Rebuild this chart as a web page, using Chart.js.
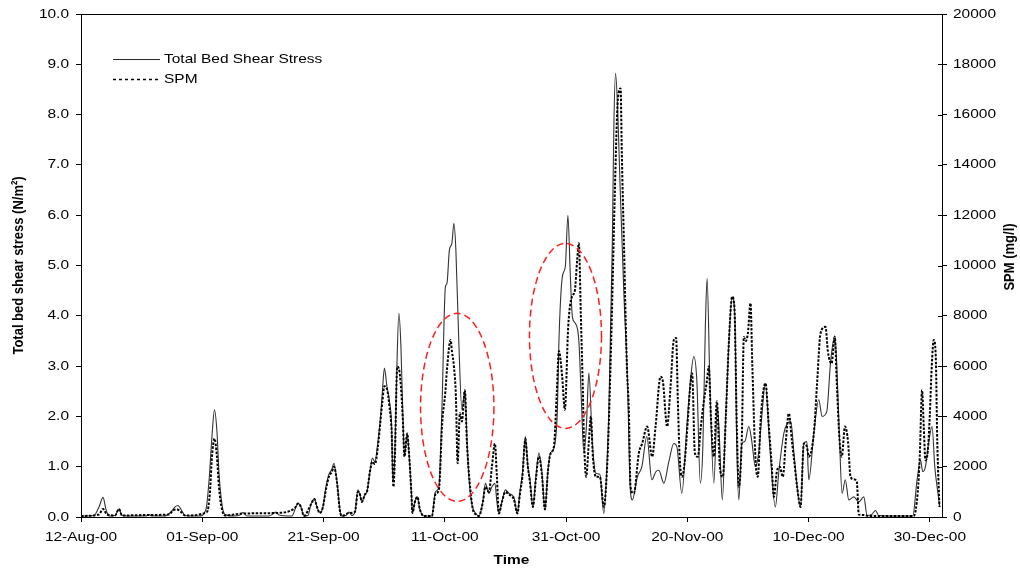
<!DOCTYPE html>
<html>
<head>
<meta charset="utf-8">
<script src="https://cdn.jsdelivr.net/npm/chart.js@4.4.1/dist/chart.umd.min.js"></script>
<style>
  html, body { margin: 0; padding: 0; background: #fff; }
  canvas { display: block; }
</style>
</head>
<body>
<canvas id="chart" width="1020" height="569"></canvas>
<script>
// Time axis: days elapsed since 12-Aug-2000
const START_DATE = Date.UTC(2000, 7, 12);
const MONTHS = ['Jan','Feb','Mar','Apr','May','Jun','Jul','Aug','Sep','Oct','Nov','Dec'];
const X_RANGE = [0, 142];
const X_TICK_STEP = 20;

// Total bed shear stress (N/m2)
const stressDays = [0,2.14,2.97,3.63,4.12,4.62,5.61,6.27,6.76,8.74,
  10.72,11.21,11.71,13.69,14.84,15.5,15.99,16.65,17.15,19.46,
  20.61,21.1,21.6,22.01,22.42,22.75,23.25,23.74,25.23,26.22,
  26.71,27.37,31.0,31.66,32.15,32.65,34.79,35.45,35.78,36.27,
  36.77,37.43,37.92,38.5,38.91,39.41,39.9,40.4,40.89,41.38,
  41.71,42.21,42.7,42.95,43.69,44.19,44.68,45.18,45.67,46.0,
  46.33,46.83,47.16,47.65,48.06,48.47,48.97,49.38,49.71,50.04,
  50.45,50.87,51.23,51.44,51.77,52.1,52.43,52.76,53.09,53.34,
  53.8,54.08,54.49,54.66,55.07,55.48,55.89,56.55,57.87,58.45,
  59.03,59.52,60.1,60.35,60.76,61.17,61.5,61.83,62.32,62.82,
  63.31,63.64,63.97,64.47,65.13,65.62,66.28,66.69,67.27,67.77,
  68.26,68.59,68.92,69.42,69.99,70.57,71.39,71.97,72.38,72.8,
  73.29,73.7,74.03,74.53,75.02,75.52,76.01,76.51,77.0,77.41,
  77.99,78.57,78.81,79.39,79.88,80.3,80.71,81.04,81.53,82.11,
  82.52,82.93,83.35,83.76,84.34,84.91,85.57,86.23,86.73,87.06,
  87.63,87.88,88.16,88.54,88.95,89.53,90.11,90.6,90.93,91.76,
  92.5,93.32,94.15,94.81,95.3,96.13,96.95,97.77,98.27,99.09,
  99.92,100.58,101.07,101.57,102.14,102.56,102.97,103.26,103.71,104.37,
  104.95,105.28,105.77,106.27,106.84,107.39,107.83,108.16,108.49,108.99,
  109.48,110.14,110.64,111.21,111.79,112.28,112.86,113.6,114.51,115.09,
  115.91,116.49,117.07,117.56,118.11,118.67,119.21,119.71,120.03,120.86,
  121.68,122.23,123.0,123.61,124.32,124.65,125.1,125.52,126.05,126.63,
  127.45,128.28,129.1,129.65,130.42,131.03,131.57,134.87,137.18,137.89,
  138.45,138.83,139.27,139.82,140.36,140.81,141.3,141.63];
const stressValues = [0.02,0.03,0.2,0.39,0.15,0.02,0.03,0.16,0.03,0.02,
  0.02,0.05,0.02,0.02,0.1,0.2,0.23,0.12,0.03,0.02,
  0.15,0.7,1.6,2.13,1.7,0.9,0.25,0.05,0.02,0.04,
  0.09,0.02,0.02,0.06,0.1,0.04,0.02,0.2,0.27,0.2,
  0.02,0.03,0.25,0.36,0.2,0.08,0.2,0.6,0.85,0.95,
  1.07,0.7,0.15,0.02,0.03,0.1,0.03,0.1,0.54,0.45,
  0.3,0.45,0.5,0.9,1.17,1.1,1.5,1.96,2.5,2.96,
  2.6,2.3,1.8,0.7,1.3,3.0,4.05,3.4,2.0,1.2,
  1.66,1.3,0.47,0.08,0.3,0.4,0.15,0.02,0.02,0.5,
  0.6,2.13,4.58,4.64,5.31,5.44,5.84,5.3,3.45,2.13,
  2.52,1.6,0.8,0.25,0.07,0.02,0.3,0.67,0.47,0.6,
  0.67,0.3,0.07,0.3,0.54,0.47,0.4,0.07,0.5,0.87,
  1.6,1.0,0.77,0.2,0.8,1.27,0.9,0.15,0.9,1.27,
  1.37,2.13,3.45,4.78,4.98,6.0,4.78,3.98,3.85,3.5,
  2.33,1.27,1.8,2.86,1.46,0.87,0.85,0.07,1.0,2.13,
  5.44,7.76,8.82,8.0,6.43,4.45,2.79,0.54,0.34,0.8,
  1.0,1.6,0.74,0.9,0.93,0.67,1.1,1.46,1.4,0.47,
  1.8,2.8,3.19,2.7,0.67,1.4,3.78,4.74,2.7,0.67,
  2.19,1.6,0.34,1.8,3.45,4.38,4.0,1.4,0.34,1.46,
  1.5,1.8,1.5,1.0,1.3,2.0,2.66,1.4,0.2,0.9,
  1.66,1.86,1.9,1.3,0.6,0.2,1.46,1.5,0.74,1.66,
  2.33,2.0,2.1,3.06,3.6,3.0,1.53,0.47,0.74,0.34,
  0.4,0.3,0.4,0.03,0.05,0.13,0.03,0.02,0.02,0.74,
  1.13,0.9,1.0,1.5,1.8,1.0,0.5,0.2];

// Suspended particulate matter (mg/l)
const spmDays = [0,2.97,3.63,4.29,5.61,6.27,6.76,11.21,14.51,15.17,
  15.83,16.49,17.15,20.78,21.27,21.6,22.01,22.42,22.75,23.25,
  23.74,26.71,32.15,35.28,35.78,36.27,36.77,37.92,38.5,38.91,
  39.41,39.9,40.4,40.89,41.38,41.71,42.21,42.7,43.03,44.19,
  45.18,45.67,46.0,46.33,46.83,47.16,47.65,48.06,48.47,48.97,
  49.38,49.71,50.04,50.45,50.87,51.23,51.53,51.77,52.15,52.43,
  52.76,53.09,53.34,53.8,54.08,54.49,54.66,55.07,55.48,55.89,
  56.55,57.87,58.45,59.03,59.57,60.1,60.35,60.96,61.17,61.5,
  61.83,62.11,62.49,62.82,63.31,63.64,64.25,64.63,65.13,65.62,
  66.28,66.69,67.27,67.77,68.26,68.59,68.92,69.42,69.99,70.57,
  71.39,71.97,72.38,72.8,73.29,73.7,74.03,74.53,75.02,75.52,
  76.01,76.51,77.0,77.41,77.99,78.48,78.81,79.36,79.8,80.35,
  80.96,81.45,81.83,82.11,82.44,82.77,82.93,83.31,83.76,84.09,
  84.42,84.91,85.57,86.23,86.73,87.06,87.55,88.05,88.54,88.99,
  89.2,89.53,90.03,90.35,90.63,91.18,92.0,92.55,93.37,94.2,
  94.76,95.58,95.96,96.67,97.23,97.77,98.15,98.43,98.76,99.14,
  99.59,100.53,100.79,101.24,101.73,102.23,102.72,103.22,103.54,103.88,
  104.37,104.87,105.36,105.85,106.35,106.84,107.39,107.75,108.16,108.49,
  108.99,109.32,109.65,109.98,110.42,110.72,111.25,111.62,112.12,112.89,
  113.44,113.93,114.26,114.76,115.25,115.75,116.24,116.74,117.23,117.73,
  118.11,118.67,119.21,119.71,120.03,120.86,121.4,121.96,122.79,123.17,
  123.78,124.32,124.65,125.1,125.47,126.0,126.5,126.91,127.45,127.95,
  128.28,129.1,129.93,137.35,138.0,138.33,138.71,138.99,139.27,139.65,
  139.98,140.31,140.64,140.97,141.22,141.58];
const spmValues = [40,100,320,100,60,320,60,80,100,260,
  300,200,60,200,1000,2400,3120,2400,1200,300,
  60,140,160,360,540,400,40,500,720,400,
  160,400,1100,1600,1800,2000,1400,240,40,160,
  200,1000,900,600,900,1000,1800,2200,2100,2800,
  3800,4600,5200,5100,4400,3400,1200,2400,5980,5900,
  5200,3800,2400,3320,2600,940,160,600,800,300,
  40,40,900,1100,3720,5000,5840,7040,6600,6000,
  4800,2140,4140,3800,5040,3000,1000,300,100,40,
  600,1200,1000,2000,2920,1600,140,600,1000,900,
  700,140,900,1600,3100,2000,1400,400,1500,2400,
  1700,300,1800,2500,2800,5000,6600,5580,4260,7560,
  8760,9000,10220,10880,8000,5000,3320,1600,3000,4000,
  2400,1600,1600,400,1800,3800,8000,13000,16600,17040,
  14400,11000,6000,4260,1200,940,2540,2920,3600,2400,
  3600,5580,5400,3600,5180,7040,7120,4660,2260,1600,
  2260,5320,5720,2540,2400,3600,4600,5400,5980,4000,
  2400,4600,2000,1600,4000,6900,8760,8400,3600,1200,
  3200,7160,7000,7300,8500,6000,2260,1600,4000,5320,
  3600,2000,800,1800,2000,1600,3000,4120,3060,2000,
  1200,400,2920,2800,2400,3320,5320,7300,7560,6600,
  6100,7160,5320,3060,2400,3600,3000,1600,1500,1400,
  100,80,40,40,1000,2400,5040,3600,2260,2600,
  4000,6000,7040,6400,3000,400];

// Highlighted events: centre day, centre stress, half-width (days), half-height (N/m2)
const highlightDay = [62.05, 79.9];
const highlightStress = [2.18, 3.6];
const highlightHalfDays = [6.05, 5.94];
const highlightHalfStress = [1.87, 1.84];

const seriesNames = ['Total Bed Shear Stress', 'SPM'];
const axisTitles = { x: 'Time', y: 'Total bed shear stress (N/m\u00B2)', y2: 'SPM (mg/l)' };

const TEXT_STRETCH = 1.19;
const FONT = '13px "Liberation Sans", Arial, sans-serif';
const FONT_BOLD = 'bold 13px "Liberation Sans", Arial, sans-serif';

function formatDay(day) {
  const d = new Date(START_DATE + day * 86400000);
  return String(d.getUTCDate()).padStart(2, '0') + '-' + MONTHS[d.getUTCMonth()] + '-' +
    String(d.getUTCFullYear() % 100).padStart(2, '0');
}

function drawText(ctx, text, x, y, align, font, rotated) {
  ctx.save();
  ctx.translate(x, y);
  ctx.scale(TEXT_STRETCH, 1);
  if (rotated) ctx.rotate(-Math.PI / 2);
  ctx.font = font;
  ctx.fillStyle = '#000';
  ctx.textAlign = align;
  ctx.textBaseline = 'middle';
  ctx.fillText(text, 0, 0);
  ctx.restore();
}

const frameAndText = {
  id: 'frameAndText',
  afterDatasetsDraw(chart) {
    const { ctx, scales: { x, y } } = chart;
    ctx.save();
    ctx.strokeStyle = '#ff1f1f';
    ctx.lineWidth = 1.5;
    ctx.setLineDash([7, 4]);
    highlightDay.forEach((d, i) => {
      const cx = x.getPixelForValue(d);
      const cy = y.getPixelForValue(highlightStress[i]);
      const rx = x.getPixelForValue(d + highlightHalfDays[i]) - cx;
      const ry = cy - y.getPixelForValue(highlightStress[i] + highlightHalfStress[i]);
      ctx.beginPath();
      ctx.ellipse(cx, cy, rx, ry, 0, 0, Math.PI * 2);
      ctx.stroke();
    });
    ctx.restore();
  },
  afterDraw(chart) {
    const { ctx, chartArea: area, scales: { x, y, y2 } } = chart;
    ctx.save();
    // top frame line and inner half of the right-axis ticks
    ctx.strokeStyle = '#000';
    ctx.lineWidth = 1;
    ctx.beginPath();
    const top = Math.round(area.top) + 0.5;
    ctx.moveTo(Math.round(area.left), top);
    ctx.lineTo(Math.round(area.right) + 1, top);
    y2.ticks.forEach(t => {
      const py = Math.round(y2.getPixelForValue(t.value)) + 0.5;
      ctx.moveTo(Math.round(area.right) - 4, py);
      ctx.lineTo(Math.round(area.right), py);
    });
    ctx.stroke();

    // tick labels
    y.ticks.forEach(t => drawText(ctx, Number(t.value).toFixed(1), 69, y.getPixelForValue(t.value), 'right', FONT));
    y2.ticks.forEach(t => drawText(ctx, String(t.value), 953, y2.getPixelForValue(t.value), 'left', FONT));
    x.ticks.forEach(t => drawText(ctx, formatDay(t.value), x.getPixelForValue(t.value), 537, 'center', FONT));

    // axis titles
    drawText(ctx, axisTitles.x, (area.left + area.right) / 2, 560, 'center', FONT_BOLD);
    drawText(ctx, axisTitles.y, 19, (area.top + area.bottom) / 2, 'center', FONT_BOLD, true);
    drawText(ctx, axisTitles.y2, 1010, 257, 'center', FONT_BOLD, true);

    // legend
    ctx.lineWidth = 1;
    ctx.strokeStyle = '#2a2a2a';
    ctx.beginPath();
    ctx.moveTo(113, 59.5);
    ctx.lineTo(160, 59.5);
    ctx.stroke();
    ctx.strokeStyle = '#000';
    ctx.lineWidth = 1.3;
    ctx.setLineDash([3, 3]);
    ctx.beginPath();
    ctx.moveTo(113, 79.5);
    ctx.lineTo(160, 79.5);
    ctx.stroke();
    ctx.setLineDash([]);
    drawText(ctx, seriesNames[0], 164, 59, 'left', FONT);
    drawText(ctx, seriesNames[1], 164, 79, 'left', FONT);
    ctx.restore();
  }
};

const axisGrid = { display: true, drawOnChartArea: false, drawTicks: true, tickLength: 5, color: '#000', lineWidth: 1 };
const axisBorder = { display: true, color: '#000', width: 1 };

new Chart(document.getElementById('chart'), {
  type: 'line',
  data: {
    datasets: [
      {
        label: seriesNames[0],
        data: stressDays.map((d, i) => ({ x: d, y: stressValues[i] })),
        yAxisID: 'y',
        borderColor: '#333333',
        borderWidth: 1.1,
        pointRadius: 0,
        cubicInterpolationMode: 'monotone',
        fill: false,
        order: 1
      },
      {
        label: seriesNames[1],
        data: spmDays.map((d, i) => ({ x: d, y: spmValues[i] })),
        yAxisID: 'y2',
        borderColor: '#000000',
        borderWidth: 2,
        borderDash: [2.5, 1.5],
        pointRadius: 0,
        cubicInterpolationMode: 'monotone',
        fill: false,
        order: 0
      }
    ]
  },
  options: {
    responsive: false,
    devicePixelRatio: 1,
    animation: false,
    layout: { padding: { top: 14, left: 0, right: 0, bottom: 0 } },
    plugins: { legend: { display: false }, tooltip: { enabled: false }, title: { display: false } },
    scales: {
      x: {
        type: 'linear',
        min: X_RANGE[0],
        max: X_RANGE[1],
        ticks: { stepSize: X_TICK_STEP, includeBounds: false, display: false, callback: v => formatDay(v) },
        grid: axisGrid,
        border: axisBorder,
        afterFit(s) { s.height = 52; }
      },
      y: {
        position: 'left',
        min: 0,
        max: 10,
        ticks: { stepSize: 1, display: false },
        grid: axisGrid,
        border: axisBorder,
        afterFit(s) { s.width = 81; }
      },
      y2: {
        position: 'right',
        min: 0,
        max: 20000,
        ticks: { stepSize: 2000, display: false },
        grid: axisGrid,
        border: axisBorder,
        afterFit(s) { s.width = 78; }
      }
    }
  },
  plugins: [frameAndText]
});
</script>
</body>
</html>
